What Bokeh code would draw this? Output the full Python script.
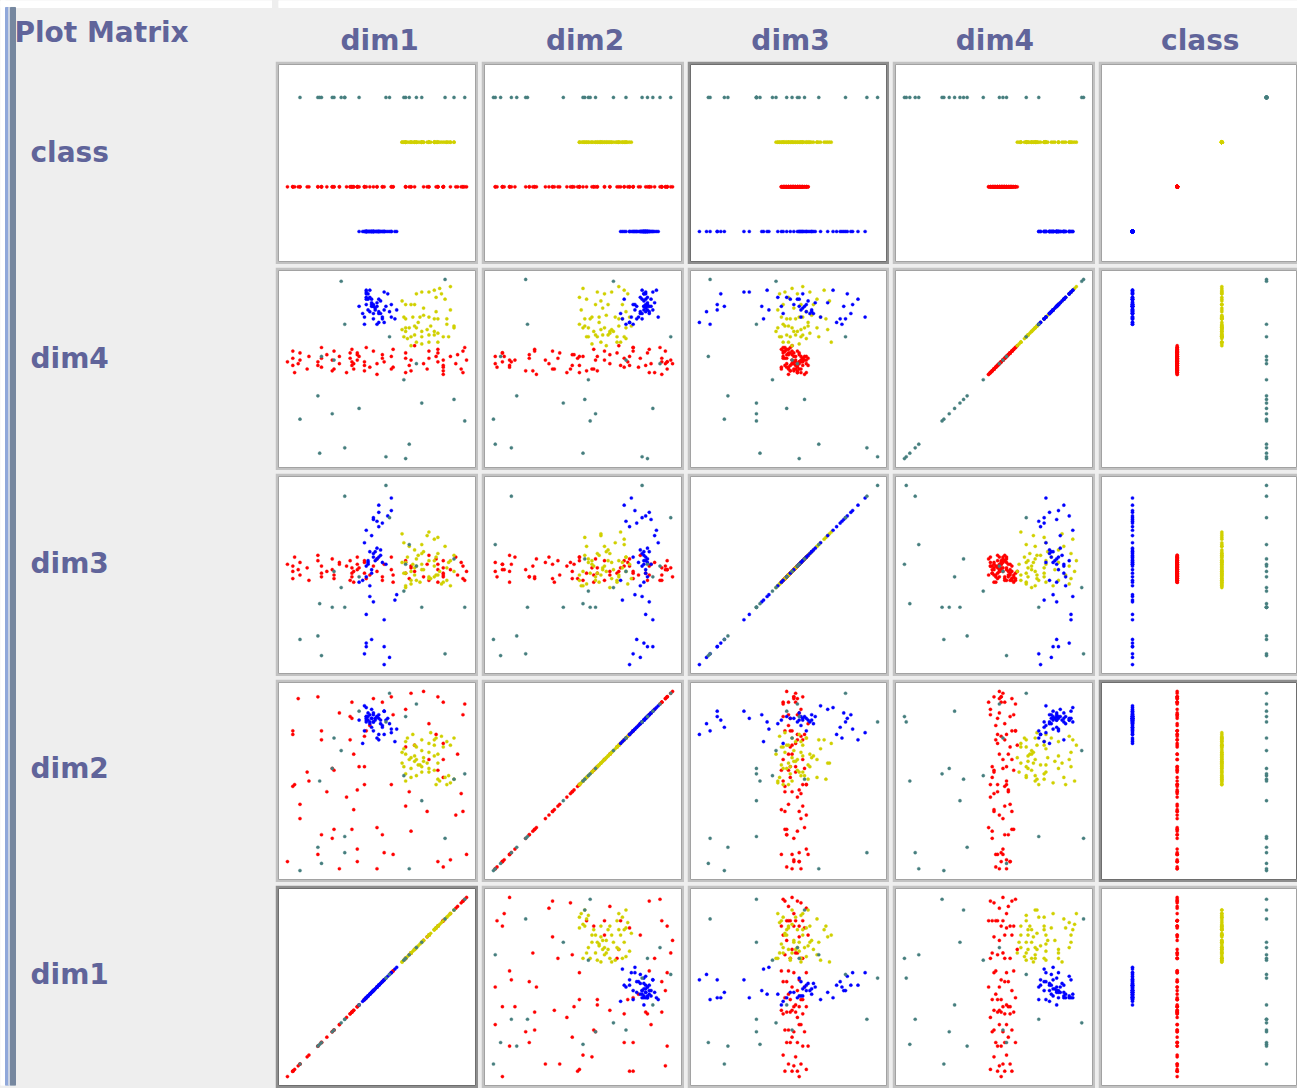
from bokeh.plotting import figure
from bokeh.models import ColumnDataSource, Range1d, GridPlot
from bokeh.core.properties import value
from bokeh.embed import file_html
from bokeh.resources import INLINE

# ---------------------------------------------------------------------------
# Data: four numeric attributes (normalised 0..1) and a nominal class.
# Each record is (dim1, dim2, dim3, dim4).
# ---------------------------------------------------------------------------
COLUMNS = ["dim1", "dim2", "dim3", "dim4", "class"]
ROWS = ["class", "dim4", "dim3", "dim2", "dim1"]
CLASS_LEVELS = ["c0", "c1", "c2", "c3"]
CLASS_COLORS = ["#0000ff", "#ff0000", "#d0d000", "#467e7e"]

CLASS_C0 = [  # blue
    (.54, .76, .00, .76), (.43, .78, .06, .75), (.57, .82, .04, .82), (.44, .86, .10, .86),
    (.54, .89, .10, .83), (.44, .84, .12, .92), (.47, .80, .14, .85), (.54, .89, .25, .93),
    (.44, .85, .28, .93), (.60, .72, .36, .78), (.48, .87, .35, .85), (.46, .83, .38, .94),
    (.61, .79, .39, .83), (.40, .84, .46, .85), (.44, .86, .49, .90), (.47, .85, .51, .89),
    (.44, .83, .55, .89), (.45, .88, .56, .89), (.53, .81, .57, .79), (.55, .84, .56, .85),
    (.50, .86, .59, .85), (.51, .85, .60, .82), (.48, .83, .62, .81), (.46, .87, .63, .82),
    (.49, .84, .63, .83), (.52, .82, .64, .81), (.47, .90, .72, .87), (.44, .91, .75, .94),
    (.51, .76, .77, .76), (.53, .80, .79, .78), (.50, .74, .80, .75), (.48, .88, .81, .85),
    (.48, .83, .82, .78), (.56, .85, .83, .92), (.51, .87, .85, .81), (.58, .79, .86, .86),
    (.51, .73, .89, .89), (.58, .77, .93, .79), (.42, .71, .47, .81), (.47, .85, .53, .86),
    (.45, .84, .58, .92), (.50, .86, .65, .87), (.43, .92, .68, .79), (.46, .82, .44, .90),
    (.49, .85, .58, .84), (.52, .84, .61, .88), (.48, .78, .60, .86), (.45, .86, .57, .83),
]

CLASS_C1 = [  # red
    (1.00, .09, .52, .55), (.98, .33, .48, .60), (.97, .43, .57, .50), (.95, .65, .50, .58),
    (.98, .87, .55, .48), (.99, .93, .47, .62), (.94, .31, .60, .53), (.91, .06, .53, .57),
    (.87, .02, .49, .51), (.84, .05, .56, .59), (.87, .52, .51, .49), (.87, .62, .58, .55),
    (.84, .56, .46, .61), (.87, .71, .54, .52), (.83, .76, .59, .57), (.87, .94, .50, .47),
    (.84, .97, .53, .54), (.79, .62, .47, .60), (.78, .33, .56, .50), (.79, .82, .61, .56),
    (.76, 1.00, .49, .53), (.71, .70, .52, .63), (.69, .22, .55, .49), (.66, .36, .58, .56),
    (.68, .44, .48, .52), (.66, .69, .51, .59), (.66, .90, .57, .48), (.69, .99, .54, .55),
    (.59, .09, .46, .51), (.58, .48, .60, .57), (.59, .87, .50, .61), (.58, .97, .53, .50),
    (.54, .10, .56, .54), (.53, .20, .49, .58), (.50, .24, .59, .47), (.50, .01, .52, .53),
    (.53, .94, .47, .56), (.48, .96, .55, .60), (.43, .48, .58, .52), (.43, .58, .51, .49),
    (.40, .58, .54, .57), (.44, .78, .48, .62), (.43, .75, .57, .54), (.46, .81, .50, .51),
    (.39, .05, .53, .59), (.39, .12, .60, .55), (.37, .34, .46, .50), (.39, .45, .56, .58),
    (.37, .65, .52, .53), (.36, .23, .49, .61), (.33, .41, .55, .48), (.35, .73, .58, .56),
    (.36, .85, .51, .52), (.35, .86, .47, .59), (.36, .94, .54, .54), (.29, .01, .57, .57),
    (.26, .56, .50, .50), (.25, .57, .59, .55), (.25, .18, .53, .49), (.26, .23, .48, .60),
    (.29, .88, .56, .53), (.22, .44, .52, .58), (.17, .09, .61, .52), (.19, .20, .49, .56),
    (.19, .73, .55, .51), (.19, .78, .51, .62), (.17, .97, .58, .54), (.12, .50, .47, .57),
    (.11, .55, .54, .50), (.07, .29, .57, .55), (.07, .37, .50, .59), (.06, .96, .53, .53),
    (.04, .48, .60, .48), (.03, .47, .48, .56), (.03, .76, .55, .52), (.03, .78, .52, .60),
    (.00, .05, .56, .54),
]

CLASS_C2 = [  # yellow
    (.72, .62, .55, .92), (.75, .58, .62, .93), (.79, .66, .48, .93), (.82, .73, .70, .94),
    (.85, .50, .52, .95), (.86, .75, .45, .92), (.91, .70, .58, .96), (.88, .52, .66, .89),
    (.83, .48, .50, .90), (.64, .60, .73, .88), (.66, .72, .57, .86), (.69, .57, .47, .86),
    (.71, .64, .64, .86), (.76, .61, .53, .84), (.83, .74, .60, .82), (.91, .49, .44, .83),
    (.65, .68, .68, .79), (.66, .54, .51, .78), (.70, .76, .56, .79), (.74, .59, .46, .79),
    (.76, .63, .63, .80), (.79, .55, .58, .79), (.82, .70, .49, .78), (.84, .51, .71, .78),
    (.89, .72, .54, .78), (.89, .48, .47, .75), (.93, .51, .61, .74), (.93, .74, .52, .73),
    (.64, .66, .57, .72), (.66, .50, .44, .73), (.68, .62, .66, .73), (.71, .70, .50, .74),
    (.72, .53, .59, .73), (.75, .67, .53, .71), (.78, .60, .72, .72), (.80, .77, .48, .74),
    (.82, .56, .55, .71), (.84, .65, .62, .70), (.87, .69, .46, .68), (.90, .53, .57, .68),
    (.65, .58, .51, .68), (.67, .74, .60, .67), (.69, .52, .45, .68), (.71, .61, .54, .69),
    (.75, .73, .67, .68), (.79, .57, .49, .69), (.82, .64, .58, .69), (.69, .63, .52, .63),
    (.72, .69, .47, .65), (.75, .55, .56, .64), (.79, .71, .74, .65), (.84, .60, .50, .65),
    (.66, .65, .43, .71), (.73, .59, .61, .76),
]

CLASS_C3 = [  # teal
    (.30, .67, .43, .99), (.88, .18, .06, 1.00), (.32, .19, .32, .75), (.57, .99, .82, .68),
    (.19, .04, .05, .57), (.26, .74, .52, .55), (.72, .93, .55, .53), (.65, .53, .41, .44),
    (.17, .13, .16, .35), (.75, .39, .32, .31), (.93, .51, .59, .33), (.25, .57, .32, .25),
    (.40, .89, .49, .28), (.07, .00, .14, .22), (.99, .54, .32, .21), (.68, .01, .67, .08),
    (.32, .10, .94, .06), (.18, .50, .34, .03), (.55, .83, 1.00, .01), (.66, .86, .56, .00),
]

# ---------------------------------------------------------------------------
# Layout constants (pixels)
# ---------------------------------------------------------------------------
PAGE_W, PAGE_H = 1297, 1088
GAP = 3
LABEL_W = 272
HEADER_H = 58
COL_W = [203, 203, 202, 203, 199]
ROW_H = [203, 203, 203, 203, 203]
FRAME = 3
DIM_PAD = 0.05
CLASS_STEP_PX = 44.67
CLASS_X_START = -0.694
CLASS_Y_START = -0.672

BG = "#eeeeee"
TEXT_COLOR = "#60649a"
FONT = value("DejaVu Sans")
FONT_SIZE = "28px"
TEXT_LIFT = 10  # baseline correction for the label glyphs

DARK_CELLS = {("class", "dim3"), ("dim1", "dim1"), ("dim2", "class")}


def make_source(records, code):
    cols = list(zip(*records))
    data = {name: list(cols[i]) for i, name in enumerate(["dim1", "dim2", "dim3", "dim4"])}
    data["class"] = [code] * len(records)
    return ColumnDataSource(data)


# draw order: red, yellow, blue, then teal on top
SOURCES = [
    (make_source(CLASS_C1, 1), CLASS_COLORS[1]),
    (make_source(CLASS_C2, 2), CLASS_COLORS[2]),
    (make_source(CLASS_C0, 0), CLASS_COLORS[0]),
    (make_source(CLASS_C3, 3), CLASS_COLORS[3]),
]


def axis_range(attr, frame_px, start_class):
    if attr == "class":
        return Range1d(start_class, start_class + frame_px / CLASS_STEP_PX)
    return Range1d(-DIM_PAD, 1 + DIM_PAD)


def cell(row_attr, col_attr, w, h, last_col):
    right_border = 0 if last_col else FRAME
    frame_w = w - FRAME - right_border
    frame_h = h - 2 * FRAME
    p = figure(
        width=w, height=h,
        x_range=axis_range(col_attr, frame_w, CLASS_X_START),
        y_range=axis_range(row_attr, frame_h, CLASS_Y_START),
        output_backend="svg", toolbar_location=None,
        x_axis_location=None, y_axis_location=None,
        min_border_left=FRAME, min_border_right=right_border,
        min_border_top=FRAME, min_border_bottom=FRAME,
    )
    p.grid.visible = False
    p.background_fill_color = "white"
    dark = (row_attr, col_attr) in DARK_CELLS
    p.border_fill_color = "#8e8e8e" if dark else "#c2c2c2"
    p.outline_line_color = "#6e6e6e" if dark else "#a2a2a2"
    p.outline_line_width = 1
    for src, color in SOURCES:
        p.scatter(x=col_attr, y=row_attr, source=src, marker="circle", size=3.2,
                  fill_color=color, line_color=color, line_alpha=0.35, line_width=1.0)
    return p


# left panel: title, row labels and the window edge
left = figure(width=LABEL_W, height=PAGE_H, x_range=Range1d(0, LABEL_W),
              y_range=Range1d(PAGE_H, 0), output_backend="svg", toolbar_location=None,
              x_axis_location=None, y_axis_location=None, min_border=0)
left.grid.visible = False
left.outline_line_color = None
left.background_fill_color = BG
left.border_fill_color = BG
left.quad(left=[0], right=[LABEL_W], top=[0], bottom=[7], color="white")
left.quad(left=[0], right=[5], top=[0], bottom=[PAGE_H], color="white")
left.quad(left=[5], right=[8], top=[7], bottom=[PAGE_H], color="#90a8da")
left.quad(left=[8], right=[10], top=[7], bottom=[PAGE_H], color="#c9d2e2")
left.quad(left=[10], right=[15], top=[7], bottom=[PAGE_H], color="#76879f")
left.text(x=[14], y=[42 - TEXT_LIFT], text=["Plot Matrix"], text_font=FONT,
          text_font_style="bold", text_font_size=FONT_SIZE, text_color=TEXT_COLOR,
          text_baseline="alphabetic")

row_tops = []
y = HEADER_H + GAP
for h in ROW_H:
    row_tops.append(y)
    y += h + GAP
left.text(x=[30] * len(ROWS), y=[t + h / 2 - TEXT_LIFT for t, h in zip(row_tops, ROW_H)],
          text=ROWS, text_font=FONT, text_font_style="bold", text_font_size=FONT_SIZE,
          text_color=TEXT_COLOR, text_baseline="alphabetic")

# header strip with the column names
header_x0 = LABEL_W + GAP
header = figure(width=PAGE_W - header_x0, height=HEADER_H, x_range=Range1d(header_x0, PAGE_W),
                y_range=Range1d(HEADER_H, 0), output_backend="svg", toolbar_location=None,
                x_axis_location=None, y_axis_location=None, min_border=0)
header.grid.visible = False
header.outline_line_color = None
header.background_fill_color = BG
header.border_fill_color = BG
header.quad(left=[header_x0], right=[PAGE_W], top=[0], bottom=[7], color="white")
col_centers = []
x = header_x0
for w in COL_W:
    col_centers.append(x + 101.5)
    x += w + GAP
header.text(x=col_centers, y=[50 - TEXT_LIFT] * len(COLUMNS), text=COLUMNS, text_font=FONT,
            text_font_style="bold", text_font_size=FONT_SIZE, text_color=TEXT_COLOR,
            text_align="center", text_baseline="alphabetic")

children = [(left, 0, 0, len(ROWS) + 1, 1), (header, 0, 1, 1, len(COLUMNS))]
for r, row_attr in enumerate(ROWS):
    for c, col_attr in enumerate(COLUMNS):
        children.append((cell(row_attr, col_attr, COL_W[c], ROW_H[r], c == len(COLUMNS) - 1),
                         r + 1, c + 1))

grid = GridPlot(children=children, spacing=GAP, toolbar_location=None,
                styles={"background-color": BG})

open("out.html", "w").write(file_html(grid, INLINE))
